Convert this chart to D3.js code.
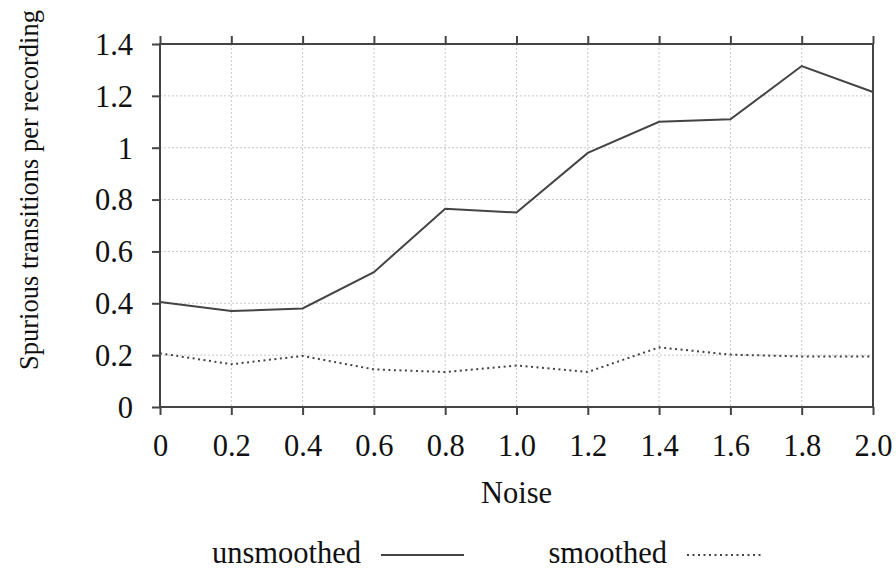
<!DOCTYPE html>
<html>
<head>
<meta charset="utf-8">
<script src="https://cdn.jsdelivr.net/npm/d3@7"></script>
<style>
  body { margin: 0; background: #fff; }
  text { font-family: "Liberation Serif", "Times New Roman", serif; fill: #111; }
</style>
</head>
<body>
<div id="chart"></div>
<script>
// data
const noise = [0, 0.2, 0.4, 0.6, 0.8, 1.0, 1.2, 1.4, 1.6, 1.8, 2.0]
const unsmoothed = [0.405, 0.37, 0.38, 0.52, 0.765, 0.75, 0.98, 1.10, 1.11, 1.315, 1.215]
const smoothed = [0.207, 0.165, 0.197, 0.145, 0.135, 0.16, 0.135, 0.23, 0.202, 0.195, 0.195]
const xTicks = [0, 0.2, 0.4, 0.6, 0.8, 1.0, 1.2, 1.4, 1.6, 1.8, 2.0]
const xTickLabels = ['0', '0.2', '0.4', '0.6', '0.8', '1.0', '1.2', '1.4', '1.6', '1.8', '2.0']
const yTicks = [0, 0.2, 0.4, 0.6, 0.8, 1, 1.2, 1.4]
const yTickLabels = ['0', '0.2', '0.4', '0.6', '0.8', '1', '1.2', '1.4']
const seriesNames = ['unsmoothed', 'smoothed']

const width = 896,
  height = 569
const margin = {top: 44, right: 23, bottom: 162, left: 160}
const innerW = width - margin.left - margin.right
const innerH = height - margin.top - margin.bottom
const ink = '#444'
const fontSize = 30.5

let svg = d3.select('#chart')
  .append('svg')
  .attr('width', width)
  .attr('height', height)

let g = svg.append('g')
  .attr('transform', `translate(${margin.left}, ${margin.top})`)

const x = d3.scaleLinear().domain([0, 2]).range([0, innerW])
const y = d3.scaleLinear().domain([0, 1.4]).range([innerH, 0])

// grid
g.append('g')
  .selectAll('line')
  .data(xTicks.slice(1, -1))
  .enter().append('line')
  .attr('x1', d => x(d)).attr('x2', d => x(d))
  .attr('y1', 0).attr('y2', innerH)
  .attr('stroke', '#c8c8c8').attr('stroke-width', 1)
  .attr('stroke-dasharray', '2,2')
g.append('g')
  .selectAll('line')
  .data(yTicks.slice(1, -1))
  .enter().append('line')
  .attr('x1', 0).attr('x2', innerW)
  .attr('y1', d => y(d)).attr('y2', d => y(d))
  .attr('stroke', '#c8c8c8').attr('stroke-width', 1)
  .attr('stroke-dasharray', '2,2')

// axes
let xAxis = g.append('g')
  .attr('transform', `translate(0, ${innerH})`)
  .call(d3.axisBottom(x).tickValues(xTicks).tickSize(8).tickPadding(0)
    .tickFormat((d, i) => xTickLabels[i]))
let xTop = g.append('g')
  .call(d3.axisTop(x).tickValues(xTicks).tickSize(8).tickFormat(''))
let yAxis = g.append('g')
  .call(d3.axisLeft(y).tickValues(yTicks).tickSize(8).tickPadding(19)
    .tickFormat((d, i) => yTickLabels[i]))

;[xAxis, xTop, yAxis].forEach(a => {
  a.select('.domain').remove()
  a.selectAll('.tick line').attr('stroke', ink).attr('stroke-width', 2)
  a.selectAll('text')
    .style('font-family', '"Liberation Serif", serif')
    .style('font-size', fontSize + 'px')
    .attr('fill', '#111')
})
xAxis.selectAll('text').attr('y', 49).attr('dy', 0)
yAxis.selectAll('text').attr('dy', '0.34em')

// frame
g.append('rect')
  .attr('width', innerW).attr('height', innerH)
  .attr('fill', 'none').attr('stroke', ink).attr('stroke-width', 2)

// lines
const line = d3.line().x((d, i) => x(noise[i])).y(d => y(d))
g.append('path')
  .datum(unsmoothed)
  .attr('d', line)
  .attr('fill', 'none').attr('stroke', ink).attr('stroke-width', 2)
g.append('path')
  .datum(smoothed)
  .attr('d', line)
  .attr('fill', 'none').attr('stroke', ink).attr('stroke-width', 2)
  .attr('stroke-dasharray', '2,3.5')

// axis titles
svg.append('text')
  .attr('x', margin.left + innerW / 2).attr('y', 503)
  .attr('text-anchor', 'middle')
  .style('font-size', fontSize + 'px')
  .text('Noise')
svg.append('text')
  .attr('transform', 'translate(38, 190) rotate(-90)')
  .attr('text-anchor', 'middle')
  .style('font-size', '26.5px')
  .text('Spurious transitions per recording')

// legend
const legend = [
  {name: seriesNames[0], tx: 361, lx1: 381, lx2: 464, dash: null},
  {name: seriesNames[1], tx: 667, lx1: 687, lx2: 763, dash: '2,3.5'}
]
legend.forEach(l => {
  svg.append('text')
    .attr('x', l.tx).attr('y', 563)
    .attr('text-anchor', 'end')
    .style('font-size', fontSize + 'px')
    .text(l.name)
  svg.append('line')
    .attr('x1', l.lx1).attr('x2', l.lx2)
    .attr('y1', 555).attr('y2', 555)
    .attr('stroke', ink).attr('stroke-width', 2)
    .attr('stroke-dasharray', l.dash)
})
</script>
</body>
</html>
